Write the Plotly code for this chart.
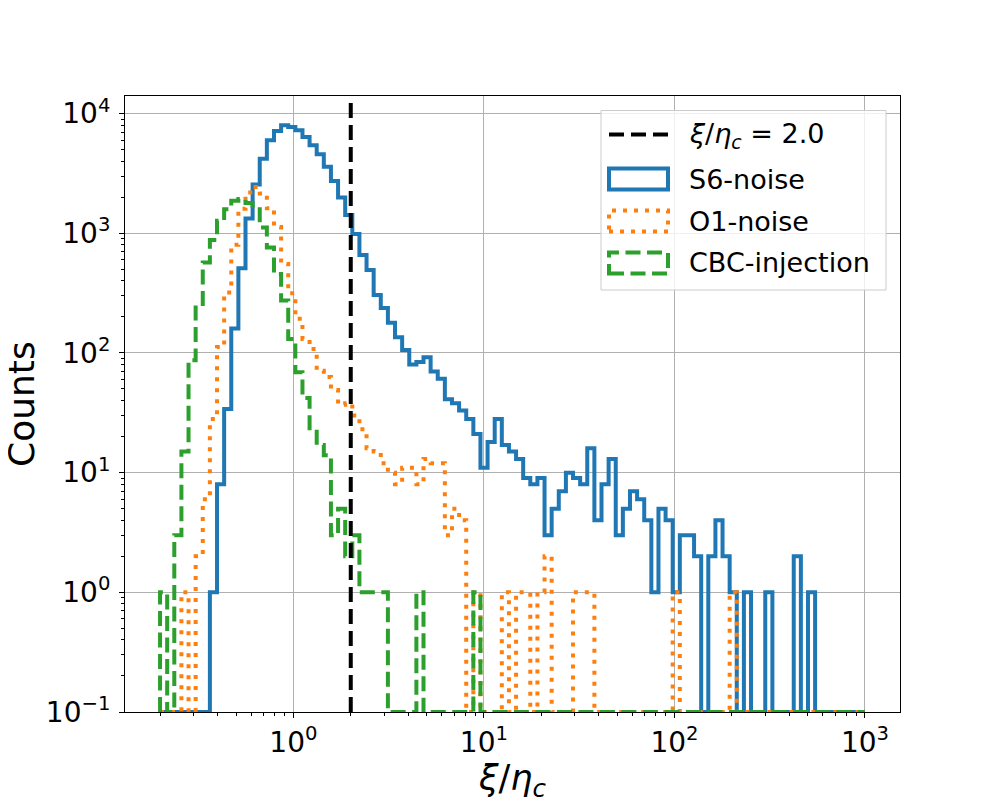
import numpy as np
import plotly.graph_objects as go

# Histogram bin grid (log-spaced edges, 99 bins from 10^-0.7 to 10^3)
log_edge_min = -0.7
log_edge_max = 3.0
n_edges = 100
threshold = 2.0

# Counts per bin
s6_noise = [0, 0, 0, 0, 0, 0, 0, 1, 8, 34,
            160, 510, 1330, 2560, 4200, 5980, 7150, 7980, 7720, 7250,
            6370, 5430, 4570, 3600, 2740, 1990, 1420, 985, 658, 493,
            305, 238, 179, 135, 106, 80, 84, 92, 70, 61,
            41, 38, 33, 28, 21, 11, 18, 28, 17, 15,
            13, 9, 8, 9, 3, 5, 7, 10, 9, 8,
            16, 4, 8, 13, 3, 5, 7, 6, 4, 1,
            5, 4, 1, 3, 3, 2, 0, 2, 4, 2,
            1, 0, 1, 0, 0, 1, 0, 0, 0, 2,
            0, 1, 0, 0, 0, 0, 0, 0, 0]

o1_noise = [0, 0, 0, 1, 0, 2, 6, 28, 112, 320,
            800, 1600, 2190, 2440, 2150, 1620, 1130, 554, 315, 193,
            131, 108, 71, 63, 49, 37, 38, 30, 23, 16,
            15, 12, 10, 8, 11, 11, 8, 13, 12, 12,
            3, 5, 4, 0, 1, 0, 0, 0, 1, 0,
            1, 1, 0, 1, 2, 0, 0, 0, 1, 1,
            1, 0, 0, 0, 0, 0, 0, 0, 0, 0,
            0, 0, 1, 0, 0, 0, 0, 0, 0, 0,
            1, 0, 0, 0, 0, 0, 0, 0, 0, 0,
            0, 0, 0, 0, 0, 0, 0, 0, 0]

cbc_injection = [1, 0, 3, 15, 87, 240, 570, 877, 1270, 1590,
                 1870, 1930, 1790, 1590, 1120, 760, 457, 274, 131, 69,
                 42, 22, 17, 14, 3, 5, 2, 3, 1, 1,
                 1, 1, 0, 0, 0, 0, 1, 0, 0, 0,
                 0, 0, 0, 0, 1, 0, 0, 0, 0, 0,
                 0, 0, 0, 0, 0, 0, 0, 0, 0, 0,
                 0, 0, 0, 0, 0, 0, 0, 0, 0, 0,
                 0, 0, 0, 0, 0, 0, 0, 0, 0, 0,
                 0, 0, 0, 0, 0, 0, 0, 0, 0, 0,
                 0, 0, 0, 0, 0, 0, 0, 0, 0]

series_names = ["S6-noise", "O1-noise", "CBC-injection"]
y_tickvals = [0.1, 1, 10, 100, 1000, 10000]
y_ticktext = ["10<sup>\u22121</sup>", "10<sup>0</sup>", "10<sup>1</sup>",
              "10<sup>2</sup>", "10<sup>3</sup>", "10<sup>4</sup>"]
x_tickvals = [1, 10, 100, 1000]
x_ticktext = ["10<sup>0</sup>", "10<sup>1</sup>", "10<sup>2</sup>", "10<sup>3</sup>"]

y_floor = 0.1  # empty bins sit on the bottom of the log axis

edges = 10 ** np.linspace(log_edge_min, log_edge_max, n_edges)


def step_xy(counts):
    xs, ys = [edges[0]], [y_floor]
    for i, c in enumerate(counts):
        v = c if c > 0 else y_floor
        xs += [edges[i], edges[i + 1]]
        ys += [v, v]
    xs.append(edges[-1])
    ys.append(y_floor)
    return xs, ys


colors = ["#1f77b4", "#ff7f0e", "#2ca02c"]
dashes = ["solid", "4px,7px", "15px,6.5px"]
font = "DejaVu Sans"

fig = go.Figure()
for counts, name, color, dash in zip([s6_noise, o1_noise, cbc_injection], series_names, colors, dashes):
    xs, ys = step_xy(counts)
    fig.add_trace(go.Scatter(
        x=xs, y=ys, name=name, mode="lines",
        line=dict(color=color, width=4, dash=dash, simplify=False),
        hoverinfo="skip", showlegend=False,
    ))

# minor tick positions (2..9 per decade)
x_minor = [m * 10 ** d for d in range(-1, 4) for m in range(2, 10)]
y_minor = [m * 10 ** d for d in range(-1, 4) for m in range(2, 10)]

axis_common = dict(
    type="log", showline=True, mirror=True, linecolor="black", linewidth=1,
    ticks="outside", ticklen=5, tickwidth=1, tickcolor="black",
    showgrid=True, gridcolor="#b0b0b0", gridwidth=1, zeroline=False,
    tickfont=dict(family=font, size=28, color="black"),
    tickmode="array",
)

fig.update_xaxes(
    **axis_common, range=[-0.884, 3.184],
    tickvals=x_tickvals, ticktext=x_ticktext,
    minor=dict(tickmode="array", tickvals=x_minor, ticks="outside",
               ticklen=3, tickcolor="black", showgrid=False),
)
fig.update_yaxes(
    **axis_common, range=[-1, 4.147],
    tickvals=y_tickvals, ticktext=y_ticktext, ticklabelstandoff=3,
    minor=dict(tickmode="array", tickvals=y_minor, ticks="outside",
               ticklen=3, tickcolor="black", showgrid=False),
)

# the page body adds an 8px margin, so work in screen pixels and shift
OFF = 8
W, H = 992, 792
L, R, T, B = 125, 900, 96, 712  # plot area in screen pixels


def px(p):
    return (p - L) / (R - L)


def py(p):
    return (B - p) / (B - T)


shapes = [
    dict(type="line", xref="x", yref="paper", x0=threshold, x1=threshold, y0=0, y1=1,
         line=dict(color="black", width=4, dash="15px,7px"), layer="above"),
    dict(type="rect", xref="paper", yref="paper", x0=px(601), x1=px(886), y0=py(290), y1=py(110.5),
         line=dict(color="#cccccc", width=1), fillcolor="rgba(255,255,255,0.8)", layer="above"),
    dict(type="line", xref="paper", yref="paper", x0=px(609), x1=px(668), y0=py(134.5), y1=py(134.5),
         line=dict(color="black", width=4, dash="15px,7px"), layer="above"),
]
rows = [179, 221, 263]
for yc, color, dash in zip(rows, colors, dashes):
    shapes.append(dict(type="rect", xref="paper", yref="paper",
                       x0=px(609), x1=px(668), y0=py(yc + 10.5), y1=py(yc - 10.5),
                       line=dict(color=color, width=4, dash=dash), layer="above"))

labels = ["<i>\u03be</i>/<i>\u03b7</i><sub><i>c</i></sub> = " + f"{threshold:.1f}"] + series_names
annotations = []
for yc, text in zip([135] + rows, labels):
    annotations.append(dict(text=text, xref="paper", yref="paper", x=px(687), y=py(yc),
                            xanchor="left", yanchor="middle", showarrow=False,
                            font=dict(family=font, size=27, color="black")))

annotations.append(dict(text="<i>\u03be</i>/<i>\u03b7</i><sub><i>c</i></sub>", xref="paper", yref="paper",
                        x=0.5, y=py(781), xanchor="center", yanchor="middle", showarrow=False,
                        font=dict(family=font, size=35, color="black")))
annotations.append(dict(text="Counts", xref="paper", yref="paper", x=px(21), y=0.5,
                        xanchor="center", yanchor="middle", textangle=-90, showarrow=False,
                        font=dict(family=font, size=36, color="black")))

fig.update_layout(
    width=W, height=H,
    margin=dict(l=L - OFF, r=W - (R - OFF), t=T - OFF, b=H - (B - OFF)),
    plot_bgcolor="white", paper_bgcolor="white",
    showlegend=False,
    shapes=shapes, annotations=annotations,
    font=dict(family=font, color="black"),
)

fig.write_html("out.html")
